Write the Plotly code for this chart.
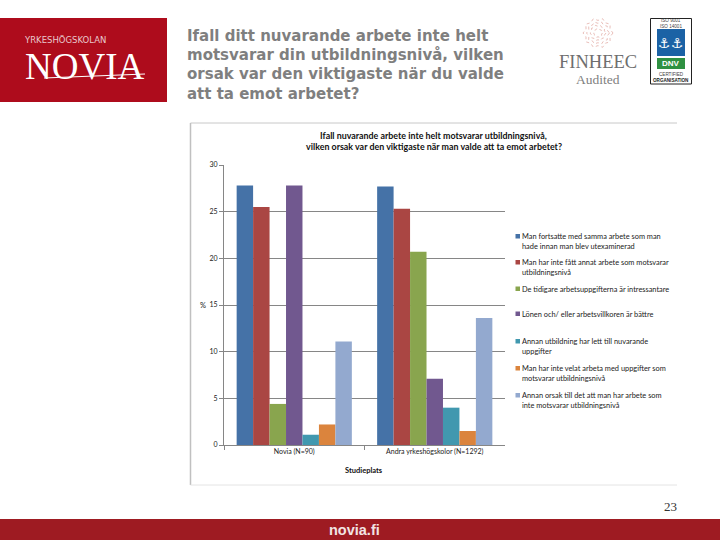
import math
import plotly.graph_objects as go

categories = ["Novia (N=90)", "Andra yrkeshögskolor (N=1292)"]
series_names = [
    "Man fortsatte med samma arbete som man<br>hade innan man blev utexaminerad",
    "Man har inte fått annat arbete som motsvarar<br>utbildningsnivå",
    "De tidigare arbetsuppgifterna är intressantare",
    "Lönen och/ eller arbetsvillkoren är bättre",
    "Annan utbildning har lett till nuvarande<br>uppgifter",
    "Man har inte velat arbeta med uppgifter som<br>motsvarar utbildningsnivå",
    "Annan orsak till det att man har arbete som<br>inte motsvarar utbildningsnivå",
]
series_values = [
    [27.8, 27.7],
    [25.5, 25.3],
    [4.4, 20.7],
    [27.8, 7.1],
    [1.1, 4.0],
    [2.2, 1.5],
    [11.1, 13.6],
]
series_colors = ["#4572A7", "#AA4643", "#89A54E", "#71588F", "#4198AF", "#DB843D", "#93A9CF"]
y_ticks = [0, 5, 10, 15, 20, 25, 30]
legend_y_px = [241.5, 267.5, 289, 314, 346.5, 373.5, 400.5]
headline = ["Ifall ditt nuvarande arbete inte helt", "motsvarar din utbildningsnivå, vilken",
            "orsak var den viktigaste när du valde", "att ta emot arbetet?"]
chart_title = ["Ifall nuvarande arbete inte helt motsvarar utbildningsnivå,",
               "vilken orsak var den viktigaste när man valde att ta emot arbetet?"]

W, H = 720, 540
X0, X1, Y0, Y1 = 224, 505, 165, 445
px = lambda x: x / W
py = lambda y: 1 - y / H

fig = go.Figure()
for name, vals, col in zip(series_names, series_values, series_colors):
    fig.add_trace(go.Bar(x=categories, y=vals, name=name, marker=dict(color=col, line_width=0)))

shapes, annos = [], []

def rect(x0, y0, x1, y1, fill=None, line=None, lw=1):
    shapes.append(dict(type="rect", xref="paper", yref="paper", x0=px(x0), x1=px(x1), y0=py(y0), y1=py(y1),
                       fillcolor=fill or "rgba(0,0,0,0)", line=dict(color=line or "rgba(0,0,0,0)", width=lw if line else 0),
                       layer="below"))

def seg(x0, y0, x1, y1, col, lw=1, dash="solid"):
    shapes.append(dict(type="line", xref="paper", yref="paper", x0=px(x0), x1=px(x1), y0=py(y0), y1=py(y1),
                       line=dict(color=col, width=lw, dash=dash), layer="below"))

def text(x, y, s, size, col="#000000", fam="Lato", anchor="left"):
    annos.append(dict(xref="paper", yref="paper", x=px(x), y=py(y), text=s, showarrow=False, xanchor=anchor,
                      yanchor="middle", align=anchor, font=dict(size=size, color=col, family=fam),
                      borderpad=0, borderwidth=0))

# logo block
rect(0, 18, 167, 102, fill="#AE0C1C")
text(24, 40, "YRKESHÖGSKOLAN", 8.5, "#E9C9CC", "DejaVu Sans")
text(25, 66, "NOVIA", 37, "#FFFFFF", "Liberation Serif")
seg(44, 78, 145, 74, "#FFFFFF", 1)

# headline
for i, line in enumerate(headline):
    text(187, 36 + i * 19.2, "<b>" + line + "</b>", 15, "#7F7F7F", "DejaVu Sans")

# FINHEEC emblem
cx, cy = 598, 33
for r in (15, 11.5, 8, 4.5):
    pts = []
    for k in range(20):
        a = math.pi * k / 10
        rr = r * (1 if k % 2 == 0 else 0.84)
        pts.append((cx + rr * math.cos(a), py(cy + rr * math.sin(a))))
    path = "M " + " L ".join(f"{px(a)},{b}" for a, b in pts) + " Z"
    shapes.append(dict(type="path", xref="paper", yref="paper", path=path, layer="below",
                       line=dict(color="#DFA49C", width=0.7, dash="dot")))
text(597.5, 62, "FINHEEC", 18.5, "#6E6E6E", "Liberation Serif", "center")
text(598, 79.5, "Audited", 13.5, "#808080", "Liberation Serif", "center")

# certification badge
rect(650.5, 18.5, 691.5, 84, fill="#FFFFFF", line="#222222", lw=1)
text(671, 21, "ISO 9001", 4.6, "#444444", "Liberation Sans", "center")
text(671, 26.5, "ISO 14001", 4.6, "#444444", "Liberation Sans", "center")
rect(657, 29, 685, 56, fill="#1B62A5")
text(664.5, 43, "⚓", 14, "#FFFFFF", "DejaVu Sans", "center")
text(677.5, 43, "⚓", 14, "#FFFFFF", "DejaVu Sans", "center")
rect(657, 58, 685, 69, fill="#2F9142")
text(671, 63.5, "<b>DNV</b>", 8, "#FFFFFF", "Liberation Sans", "center")
text(671, 74, "CERTIFIED", 4.6, "#444444", "Liberation Sans", "center")
text(671, 80, "<b>ORGANISATION</b>", 4.6, "#222222", "Liberation Sans", "center")

# picture frame of the chart
seg(190.5, 123, 677, 123, "#C8C8C8", 1)
seg(190.5, 123, 190.5, 485, "#C0C0C0", 1.5)
seg(190.5, 485, 677, 485, "#E4E4E4", 1)

# chart text
text(433.5, 136, "<b>" + chart_title[0] + "</b>", 8.9, "#111111", "Lato", "center")
text(433.5, 147, "<b>" + chart_title[1] + "</b>", 8.9, "#111111", "Lato", "center")
text(203, 305, "%", 7.5, "#222222", "Lato", "center")
text(364, 470, "<b>Studieplats</b>", 7.5, "#111111", "Lato", "center")

# legend
for name, col, ly in zip(series_names, series_colors, legend_y_px):
    two = "<br>" in name
    rect(515.5, ly - 7.5 if two else ly - 2.5, 520, ly - 3 if two else ly + 2, fill=col)
    text(522, ly, name, 7.4, "#222222", "Lato")

# footer
rect(0, 519, 720, 540, fill="#9E1B22")
text(329, 529.5, "<b>novia.fi</b>", 14.5, "#F2E4E4", "Liberation Sans")
text(670, 506, "23", 13, "#333333", "Liberation Serif", "center")

fig.update_layout(
    width=W, height=H, autosize=False, margin=dict(l=0, r=0, t=0, b=0, autoexpand=False),
    paper_bgcolor="#FFFFFF", plot_bgcolor="#FFFFFF", showlegend=False,
    barmode="group", bargap=0.18, bargroupgap=0,
    shapes=shapes, annotations=annos,
    xaxis=dict(domain=[px(X0), px(X1)], showline=True, linecolor="#868686", linewidth=1,
               ticks="outside", ticklen=4, tickcolor="#868686", tickson="boundaries",
               tickfont=dict(size=7, family="Lato", color="#222222")),
    yaxis=dict(domain=[py(Y1), py(Y0)], range=[0, 30], tickvals=y_ticks, showgrid=True, gridcolor="#868686",
               gridwidth=1, showline=True, linecolor="#868686", linewidth=1, ticks="outside", ticklen=4,
               tickcolor="#868686", zeroline=False, tickfont=dict(size=7, family="Lato", color="#222222")),
)
fig.write_html("out.html", config=dict(displayModeBar=False), post_script="document.body.style.margin='0';")
